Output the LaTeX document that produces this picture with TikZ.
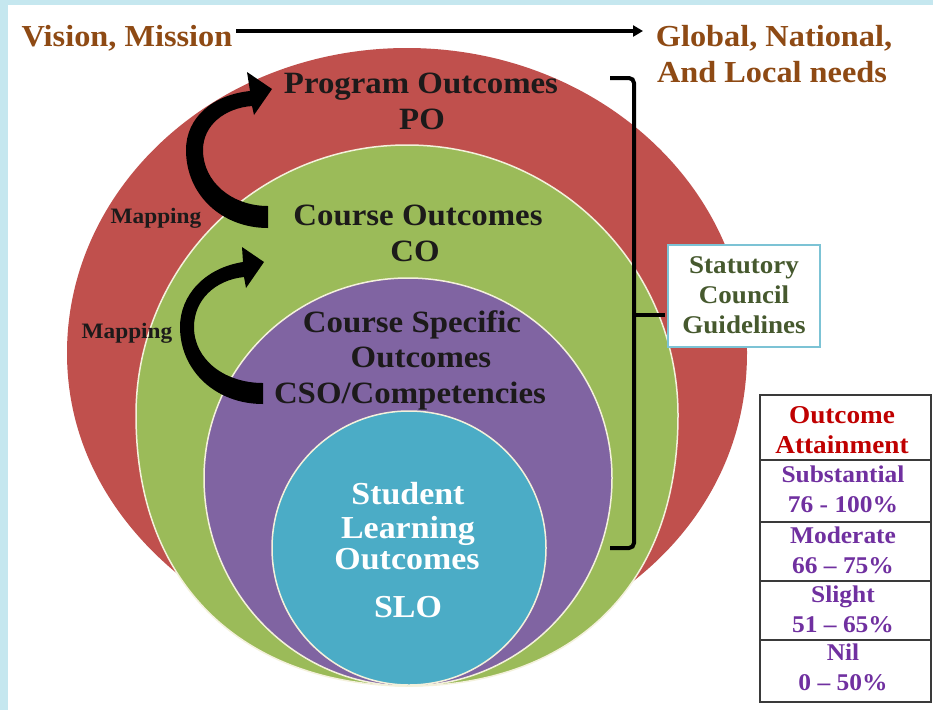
\documentclass[tikz,border=0pt]{standalone}
\usepackage{fontspec}
\setmainfont{Liberation Serif}[FakeStretch=1.06]
\usetikzlibrary{arrows.meta}
\definecolor{bgblue}{HTML}{C5E7EF}
\definecolor{redc}{HTML}{C0504D}
\definecolor{greenc}{HTML}{9BBB59}
\definecolor{purplec}{HTML}{8064A2}
\definecolor{cyanc}{HTML}{4BACC6}
\definecolor{brownc}{HTML}{8E4A14}
\definecolor{edgec}{HTML}{F4F1DC}
\definecolor{statblue}{HTML}{7CC3D5}
\definecolor{stattext}{HTML}{46592E}
\definecolor{tabred}{HTML}{C00000}
\definecolor{tabpurple}{HTML}{7030A0}
\definecolor{tabline}{HTML}{3A3A3A}
\definecolor{ink}{HTML}{1C1A1A}
\begin{document}
\begin{tikzpicture}[x=1pt,y=-1pt,
  every node/.style={inner sep=0pt, anchor=base},
  big/.style={font=\bfseries\fontsize{31}{31}\selectfont, text=ink},
  slo/.style={font=\bfseries\fontsize{32}{32}\selectfont, text=white},
  head/.style={font=\bfseries\fontsize{30.5}{30.5}\selectfont, text=brownc},
  maptext/.style={font=\bfseries\fontsize{22}{22}\selectfont, text=ink},
  stattxt/.style={font=\bfseries\fontsize{25.5}{25.5}\selectfont, text=stattext},
  tabh/.style={font=\bfseries\fontsize{25.7}{25.7}\selectfont, text=tabred},
  tabt/.style={font=\bfseries\fontsize{24}{24}\selectfont, text=tabpurple},
  ring/.style={draw=edgec, line width=1.5pt}]
\useasboundingbox (0,0) rectangle (933,710);
\fill[bgblue] (0,0) rectangle (933,710);
\fill[white] (8,5) rectangle (933,710);

% nested discs
\fill[redc] (67,353) arc[start angle=180, end angle=0, x radius=340pt, y radius=305pt]
  .. controls (747,470) and (680,550) .. (617,593) -- (409,640) -- (203,593)
  .. controls (140,550) and (67,470) .. (67,353) -- cycle;
\filldraw[fill=greenc, ring] (136,415) arc[start angle=180, end angle=0, x radius=271pt, y radius=270pt]
  .. controls (678,600) and (558,686) .. (409,686)
  .. controls (260,686) and (136,600) .. (136,415) -- cycle;
\filldraw[fill=purplec, ring] (204,478) arc[start angle=180, end angle=0, x radius=204pt, y radius=200pt]
  arc[start angle=0, end angle=-180, x radius=204pt, y radius=208pt] -- cycle;
\filldraw[fill=cyanc, ring] (409,548) circle [radius=137pt];

% top arrow
\node[head] (vm) at (127,46) {Vision, Mission};
\node[head] (gn1) at (774,46) {Global, National,};
\node[head] (gn2) at (772,82) {And Local needs};
\coordinate (vmr) at (236,31);
\coordinate (gnl) at (643,31);
\draw[line width=3.8pt, -{Triangle[length=10pt,width=11pt]}] (vmr) -- (gnl);

% labels in discs
\node[big] (po1) at (421,93) {Program Outcomes};
\node[big] (po2) at (422,129) {PO};
\node[big] (co1) at (418,225) {Course Outcomes};
\node[big] (co2) at (415,261) {CO};
\node[big] (cs1) at (412,332) {Course Specific};
\node[big] (cs2) at (421,367) {Outcomes};
\node[big] (cs3) at (410,403) {CSO/Competencies};
\node[slo] (sl1) at (408,504) {Student};
\node[slo] (sl2) at (408,538) {Learning};
\node[slo] (sl3) at (407,569) {Outcomes};
\node[slo] (sl4) at (408,617) {SLO};

% mapping arrows
\fill[black] (268,206) .. controls (232,206) and (203,182) .. (203,150)
  .. controls (203,125) and (225,108) .. (252,106)
  -- (254,115) -- (272,89) -- (247,72) -- (250,91)
  .. controls (212,95) and (186,118) .. (186,150)
  .. controls (186,195) and (222,228) .. (268,228) -- cycle;
\fill[black] (263,383) .. controls (225,383) and (194,360) .. (194,327)
  .. controls (194,300) and (215,280) .. (244,277)
  -- (246,288) -- (264,262) -- (242,247) -- (243,262)
  .. controls (205,268) and (180,295) .. (180,327)
  .. controls (180,370) and (215,404) .. (263,404) -- cycle;
\node[maptext] (map1) at (156,223) {Mapping};
\node[maptext] (map2) at (127,338) {Mapping};

% bracket and statutory box
\node[draw=statblue, line width=2pt, fill=white, minimum width=152pt,
      minimum height=102pt, anchor=center] (stat) at (744,296) {};
\node[stattxt] (st1) at (744,273) {Statutory};
\node[stattxt] (st2) at (744,303) {Council};
\node[stattxt] (st3) at (744,333) {Guidelines};
\draw[line width=4pt, rounded corners=5pt] (610,78) -- (634,78) -- (634,548) -- (610,548);
\coordinate (tick) at (634,315);
\coordinate (tickend) at (665,315);
\draw[line width=4pt] (tick) -- (tickend);

% outcome attainment table
\draw[tabline, line width=1.8pt] (760,395) rectangle (931,702);
\foreach \yy in {460,522,581,640} \draw[tabline, line width=1.8pt] (760,\yy) -- (931,\yy);
\node[tabh] (t1) at (842,423) {Outcome};
\node[tabh] (t2) at (842,453) {Attainment};
\node[tabt] (t3) at (843,482) {Substantial};
\node[tabt] (t4) at (843,512) {76 - 100\%};
\node[tabt] (t5) at (843,543) {Moderate};
\node[tabt] (t6) at (843,573) {66 – 75\%};
\node[tabt] (t7) at (843,602) {Slight};
\node[tabt] (t8) at (843,632) {51 – 65\%};
\node[tabt] (t9) at (843,660) {Nil};
\node[tabt] (t10) at (843,690) {0 – 50\%};
\end{tikzpicture}
\end{document}
